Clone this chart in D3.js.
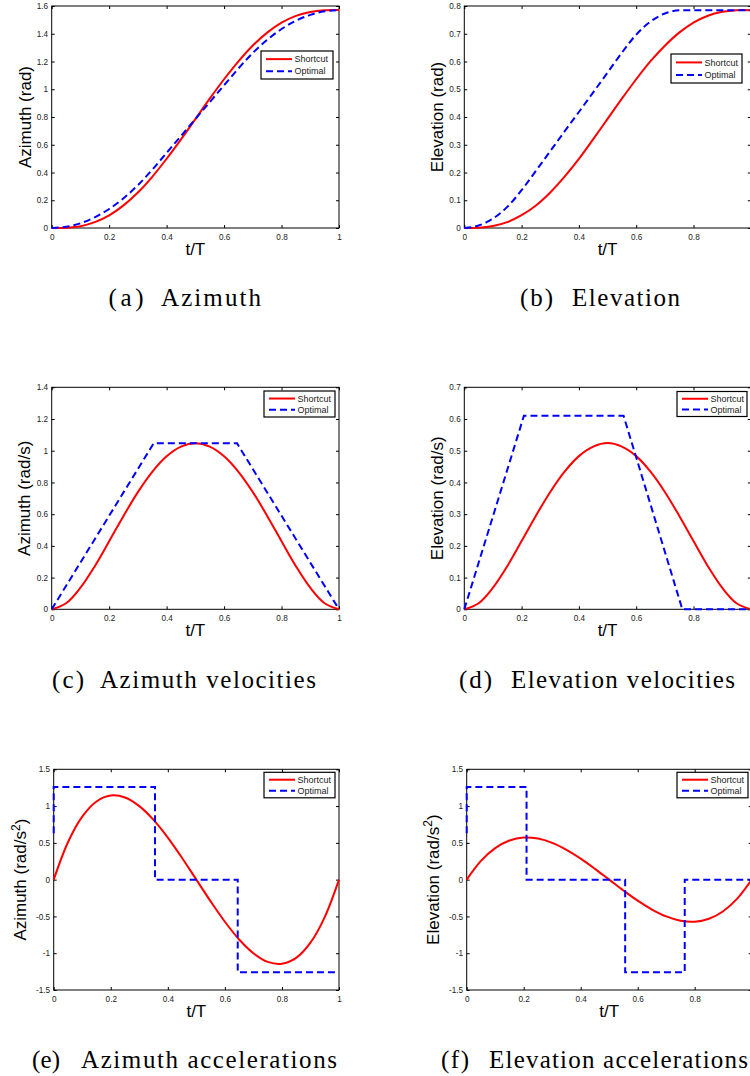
<!DOCTYPE html>
<html>
<head>
<meta charset="utf-8">
<script src="https://cdn.jsdelivr.net/npm/d3@7"></script>
<style>
  body { margin: 0; background: #fff; }
</style>
</head>
<body>
<script>

// Sample times for the smooth "Shortcut" curves (t/T)
const tSmooth = [0, 0.05, 0.1, 0.15, 0.2, 0.25, 0.3, 0.35, 0.4, 0.45, 0.5,
                 0.55, 0.6, 0.65, 0.7, 0.75, 0.8, 0.85, 0.9, 0.95, 1];

// (a) Azimuth (rad)
const azPosShortcut = [0, 0.002, 0.013, 0.042, 0.091, 0.163, 0.256, 0.369, 0.499, 0.639, 0.785,
                       0.932, 1.072, 1.201, 1.315, 1.408, 1.480, 1.529, 1.557, 1.569, 1.571];
const azPosOptimalT = [0, 0.05, 0.1, 0.15, 0.2, 0.25, 0.3, 0.355, 0.4, 0.45, 0.5,
                       0.55, 0.6, 0.645, 0.7, 0.75, 0.8, 0.85, 0.9, 0.95, 1];
const azPosOptimal  = [0, 0.009, 0.034, 0.077, 0.137, 0.214, 0.309, 0.432, 0.542, 0.663, 0.785,
                       0.907, 1.029, 1.138, 1.262, 1.356, 1.434, 1.494, 1.536, 1.562, 1.571];

// (b) Elevation (rad)
const elPosShortcut = [0, 0.001, 0.007, 0.021, 0.046, 0.081, 0.128, 0.185, 0.249, 0.320, 0.393,
                       0.466, 0.536, 0.601, 0.657, 0.704, 0.740, 0.765, 0.779, 0.785, 0.785];
const elPosOptimalT = [0, 0.05, 0.1, 0.15, 0.208, 0.25, 0.3, 0.35, 0.4, 0.45, 0.5,
                       0.556, 0.6, 0.65, 0.7, 0.761, 0.85, 1];
const elPosOptimal  = [0, 0.009, 0.034, 0.076, 0.147, 0.206, 0.277, 0.348, 0.418, 0.489, 0.560,
                       0.640, 0.697, 0.744, 0.773, 0.785, 0.785, 0.785];

// (c) Azimuth velocities (rad/s)
const azVelShortcut = [0, 0.038, 0.136, 0.272, 0.429, 0.589, 0.739, 0.867, 0.965, 1.026, 1.047,
                       1.026, 0.965, 0.867, 0.739, 0.589, 0.429, 0.272, 0.136, 0.038, 0];
const azVelOptimalT = [0, 0.355, 0.645, 1];
const azVelOptimal  = [0, 1.047, 1.047, 0];

// (d) Elevation velocities (rad/s)
const elVelShortcut = [0, 0.019, 0.068, 0.136, 0.215, 0.295, 0.370, 0.434, 0.483, 0.513, 0.524,
                       0.513, 0.483, 0.434, 0.370, 0.295, 0.215, 0.136, 0.068, 0.019, 0];
const elVelOptimalT = [0, 0.208, 0.556, 0.761, 1];
const elVelOptimal  = [0, 0.61, 0.61, 0, 0];

// (e) Azimuth accelerations (rad/s^2)
const azAccShortcut = [0, 0.509, 0.857, 1.063, 1.143, 1.117, 1.000, 0.813, 0.572, 0.295, 0,
                       -0.295, -0.572, -0.813, -1.000, -1.117, -1.143, -1.063, -0.857, -0.509, 0];
const azAccOptimalT = [0, 0, 0.355, 0.355, 0.645, 0.645, 1];
const azAccOptimal  = [0.63, 1.26, 1.26, 0, 0, -1.26, -1.26];

// (f) Elevation accelerations (rad/s^2)
const elAccShortcut = [0, 0.255, 0.429, 0.532, 0.572, 0.558, 0.500, 0.406, 0.286, 0.147, 0,
                       -0.147, -0.286, -0.406, -0.500, -0.558, -0.572, -0.532, -0.429, -0.255, 0];
const elAccOptimalT = [0, 0, 0.21, 0.21, 0.556, 0.556, 0.765, 0.765, 1];
const elAccOptimal  = [0.63, 1.26, 1.26, 0, 0, -1.26, -1.26, 0, 0];

// Tick values
const xTicks = [0, 0.2, 0.4, 0.6, 0.8, 1];
const azPosTicks = [0, 0.2, 0.4, 0.6, 0.8, 1, 1.2, 1.4, 1.6];
const elPosTicks = [0, 0.1, 0.2, 0.3, 0.4, 0.5, 0.6, 0.7, 0.8];
const azVelTicks = [0, 0.2, 0.4, 0.6, 0.8, 1, 1.2, 1.4];
const elVelTicks = [0, 0.1, 0.2, 0.3, 0.4, 0.5, 0.6, 0.7];
const accTicks = [-1.5, -1, -0.5, 0, 0.5, 1, 1.5];

const seriesNames = ["Shortcut", "Optimal"];

const width = 750;
const height = 1076;

const svg = d3.select("body").append("svg")
    .attr("width", width)
    .attr("height", height)
    .attr("viewBox", [0, 0, width, height])
    .style("font-family", "'Liberation Sans', Arial, sans-serif");

svg.append("rect").attr("width", width).attr("height", height).attr("fill", "#fff");

const zip = (ts, vs) => ts.map((t, i) => ({ t: t, v: vs[i] }));

// Panel layout (positions are px in the page)
const panels = [
    { left: 51.7, top: 6, w: 287.3, h: 222, yDomain: [0, 1.6], yTicks: azPosTicks,
      ylabel: "Azimuth (rad)", sup: false, ylabelX: 25, lastX: true,
      red: zip(tSmooth, azPosShortcut), blue: zip(azPosOptimalT, azPosOptimal), blueSmooth: true,
      legend: { x: 261, y: 51, w: 72, h: 28 },
      cap: { tag: "(a)", tagX: 108.5, tagW: 35, text: "Azimuth", x: 161, tw: 100, y: 306 } },
    { left: 464.3, top: 6, w: 286.5, h: 222, yDomain: [0, 0.8], yTicks: elPosTicks,
      ylabel: "Elevation (rad)", sup: false, ylabelX: 436.5, lastX: false,
      red: zip(tSmooth, elPosShortcut), blue: zip(elPosOptimalT, elPosOptimal), blueSmooth: true,
      legend: { x: 671, y: 54, w: 71, h: 29 },
      cap: { tag: "(b)", tagX: 520, tagW: 33, text: "Elevation", x: 572, tw: 108, y: 306 } },
    { left: 51.7, top: 387.3, w: 287.3, h: 222, yDomain: [0, 1.4], yTicks: azVelTicks,
      ylabel: "Azimuth (rad/s)", sup: false, ylabelX: 23.7, lastX: true,
      red: zip(tSmooth, azVelShortcut), blue: zip(azVelOptimalT, azVelOptimal), blueSmooth: false,
      legend: { x: 264, y: 391, w: 71, h: 26 },
      cap: { tag: "(c)", tagX: 52, tagW: 32, text: "Azimuth velocities", x: 100, tw: 216, y: 688 } },
    { left: 464.3, top: 387.3, w: 286.5, h: 222, yDomain: [0, 0.7], yTicks: elVelTicks,
      ylabel: "Elevation (rad/s)", sup: false, ylabelX: 436.5, lastX: false,
      red: zip(tSmooth, elVelShortcut), blue: zip(elVelOptimalT, elVelOptimal), blueSmooth: false,
      legend: { x: 677, y: 391.5, w: 70, h: 25 },
      cap: { tag: "(d)", tagX: 459, tagW: 33, text: "Elevation velocities", x: 511, tw: 224, y: 688 } },
    { left: 53.7, top: 769.3, w: 285.3, h: 220.7, yDomain: [-1.5, 1.5], yTicks: accTicks,
      ylabel: "Azimuth (rad/s", sup: true, ylabelX: 20, lastX: true,
      red: zip(tSmooth, azAccShortcut), blue: zip(azAccOptimalT, azAccOptimal), blueSmooth: false,
      legend: { x: 264, y: 772.3, w: 71, h: 25.5 },
      cap: { tag: "(e)", tagX: 32, tagW: 28, text: "Azimuth accelerations", x: 81, tw: 256, y: 1068 } },
    { left: 466.7, top: 769.3, w: 285, h: 220.7, yDomain: [-1.5, 1.5], yTicks: accTicks,
      ylabel: "Elevation (rad/s", sup: true, ylabelX: 432.5, lastX: false,
      red: zip(tSmooth, elAccShortcut), blue: zip(elAccOptimalT, elAccOptimal), blueSmooth: false,
      legend: { x: 677, y: 772.3, w: 71, h: 25.5 },
      cap: { tag: "(f)", tagX: 441, tagW: 28, text: "Elevation accelerations", x: 489, tw: 259, y: 1068 } }
];

const tickFont = 8.2;
const capFont = "'Liberation Serif', 'DejaVu Serif', serif";

panels.forEach(p => {
    const g = svg.append("g");

    const x = d3.scaleLinear([0, 1], [p.left, p.left + p.w]);
    const y = d3.scaleLinear(p.yDomain, [p.top + p.h, p.top]);

    const fmt = d3.format("~g");
    const xfmt = d => (!p.lastX && d === 1) ? "" : fmt(d);
    const yfmt = d => fmt(d).replace("\u2212", "-");

    // Bottom axis with labels, ticks pointing inward
    g.append("g")
        .attr("transform", `translate(0,${p.top + p.h})`)
        .call(d3.axisBottom(x).tickValues(xTicks).tickFormat(xfmt).tickSize(-3).tickPadding(6))
        .call(a => a.select(".domain").remove());

    // Left axis with labels
    g.append("g")
        .attr("transform", `translate(${p.left},0)`)
        .call(d3.axisLeft(y).tickValues(p.yTicks).tickFormat(yfmt).tickSize(-3).tickPadding(3.6))
        .call(a => a.select(".domain").remove());

    // Top and right ticks only
    g.append("g")
        .attr("transform", `translate(0,${p.top})`)
        .call(d3.axisTop(x).tickValues(xTicks).tickFormat("").tickSize(-3))
        .call(a => a.select(".domain").remove());
    g.append("g")
        .attr("transform", `translate(${p.left + p.w},0)`)
        .call(d3.axisRight(y).tickValues(p.yTicks).tickFormat("").tickSize(-3))
        .call(a => a.select(".domain").remove());

    g.selectAll(".tick text")
        .attr("font-family", "'Liberation Sans', Arial, sans-serif")
        .attr("font-size", tickFont)
        .attr("fill", "#222");
    g.selectAll(".tick line").attr("stroke", "#000");

    // Axes box
    g.append("rect")
        .attr("x", p.left).attr("y", p.top)
        .attr("width", p.w).attr("height", p.h)
        .attr("fill", "none")
        .attr("stroke", "#000")
        .attr("stroke-width", 1);

    // Lines
    const redLine = d3.line().x(d => x(d.t)).y(d => y(d.v)).curve(d3.curveCatmullRom.alpha(0.5));
    const blueLine = d3.line().x(d => x(d.t)).y(d => y(d.v))
        .curve(p.blueSmooth ? d3.curveMonotoneX : d3.curveLinear);

    g.append("path")
        .attr("fill", "none")
        .attr("stroke", "#ff0000")
        .attr("stroke-width", 2)
        .attr("d", redLine(p.red));

    g.append("path")
        .attr("fill", "none")
        .attr("stroke", "#0000ff")
        .attr("stroke-width", 2)
        .attr("stroke-dasharray", "7,4")
        .attr("d", blueLine(p.blue));

    // x label
    g.append("text")
        .attr("x", p.left + p.w / 2)
        .attr("y", p.top + p.h + 27)
        .attr("text-anchor", "middle")
        .attr("font-size", 17)
        .attr("fill", "#000")
        .text("t/T");

    // y label
    const yl = g.append("text")
        .attr("transform", `translate(${p.ylabelX},${p.top + p.h / 2}) rotate(-90)`)
        .attr("dy", "0.36em")
        .attr("text-anchor", "middle")
        .attr("font-size", 17)
        .attr("fill", "#000");
    yl.append("tspan").text(p.ylabel);
    if (p.sup) {
        yl.append("tspan").attr("font-size", 12).attr("dy", "-0.55em").text("2");
        yl.append("tspan").attr("dy", "0.42em").text(")");
    }

    // Legend
    const L = p.legend;
    const lg = g.append("g");
    lg.append("rect")
        .attr("x", L.x).attr("y", L.y).attr("width", L.w).attr("height", L.h)
        .attr("fill", "#fff").attr("stroke", "#000").attr("stroke-width", 1.2);
    seriesNames.forEach((name, i) => {
        const ry = L.y + L.h * (i === 0 ? 0.29 : 0.72);
        lg.append("line")
            .attr("x1", L.x + 5).attr("x2", L.x + 31)
            .attr("y1", ry).attr("y2", ry)
            .attr("stroke", i === 0 ? "#ff0000" : "#0000ff")
            .attr("stroke-width", 2)
            .attr("stroke-dasharray", i === 0 ? null : "7,4");
        lg.append("text")
            .attr("x", L.x + 33.5).attr("y", ry)
            .attr("dy", "0.35em")
            .attr("font-size", 9)
            .attr("fill", "#222")
            .text(name);
    });

    // Caption
    const c = p.cap;
    svg.append("text")
        .attr("x", c.tagX).attr("y", c.y)
        .attr("font-family", capFont).attr("font-size", 25)
        .attr("textLength", c.tagW).attr("lengthAdjust", "spacing")
        .text(c.tag);
    svg.append("text")
        .attr("x", c.x).attr("y", c.y)
        .attr("font-family", capFont).attr("font-size", 25)
        .attr("textLength", c.tw).attr("lengthAdjust", "spacing")
        .text(c.text);
});
</script>
</body>
</html>
